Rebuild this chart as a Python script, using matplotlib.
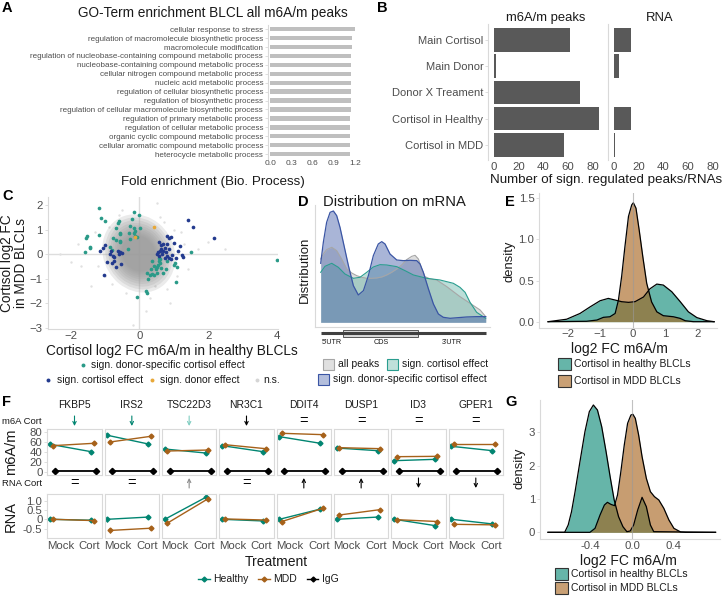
import numpy as np
import matplotlib
matplotlib.use('Agg')
import matplotlib.pyplot as plt
from matplotlib.patches import Ellipse, Rectangle

plt.rcParams['font.family'] = ['Liberation Sans', 'DejaVu Sans']

# ---------------- data ----------------
go_terms = ['cellular response to stress',
            'regulation of macromolecule biosynthetic process',
            'macromolecule modification',
            'regulation of nucleobase-containing compound metabolic process',
            'nucleobase-containing compound metabolic process',
            'cellular nitrogen compound metabolic process',
            'nucleic acid metabolic process',
            'regulation of cellular biosynthetic process',
            'regulation of biosynthetic process',
            'regulation of cellular macromolecule biosynthetic process',
            'regulation of primary metabolic process',
            'regulation of cellular metabolic process',
            'organic cyclic compound metabolic process',
            'cellular aromatic compound metabolic process',
            'heterocycle metabolic process']
go_fold = [1.20, 1.155, 1.155, 1.14, 1.14, 1.14, 1.14, 1.14, 1.14, 1.14,
           1.135, 1.135, 1.135, 1.135, 1.135]

b_cats = ['Main Cortisol', 'Main Donor', 'Donor X Treament',
          'Cortisol in Healthy', 'Cortisol in MDD']
b_m6a = [62, 2, 70, 85, 57]
b_rna = [14, 4, 0, 14, 1.5]

# panel C
teal_x = [-1.17, -1.13, -1.0, -1.56, -1.53, -1.58, -1.43, -1.45, -1.19, -0.59, -0.62, -0.67,
          -0.58, -0.56, -0.77, -0.67, -0.56, -0.58, -0.85, -0.81, -0.34, -0.17, 0.0, -0.22,
          -0.28, -0.15, -0.12, -0.17, -0.31, -0.07, 0.01, -0.12, -0.28, 0.37, 0.42, 0.47,
          0.5, 0.54, 0.57, 0.6, 0.34, 0.22, 0.24, 0.32, 0.37, 0.42, 0.61, 0.63, 0.76, 0.69,
          0.81, 0.99, 1.08, 1.03, 1.49, 1.05, 0.2, 0.21, -0.07, 4.0, 0.57, 0.52]
teal_y = [1.90, 1.47, 1.37, 0.64, 0.73, 0.07, 0.30, 0.26, 0.77, 1.36, 1.25, 1.07,
          0.81, 0.86, 0.64, 0.59, 0.55, 0.48, 0.30, 0.16, 0.21, 1.71, 1.58, 1.44,
          1.15, 1.05, 0.96, 0.85, 0.85, 0.68, 1.07, 0.73, 0.62, -0.27, -0.48, -0.62,
          -0.52, -0.45, -0.27, -0.37, -0.62, -0.75, -1.0, -0.86, -0.82, -0.86, -0.21, -0.55,
          -0.62, -0.75, -0.27, -0.45, -0.51, -0.37, 0.07, -1.14, -1.51, -1.60, -1.74, -0.23, -0.14, -0.75]
blue_x = [1.42, 1.55, 2.18, -1.14, -1.07, -0.99, -1.04, -0.95, -0.82, -0.77, -0.75, -0.80,
          -0.67, -0.60, -0.56, -0.51, -0.63, -0.54, -0.75, -0.85, 0.57, 0.63, 0.69, 0.73,
          0.81, 0.86, 0.93, 0.99, 0.81, 0.86, 0.61, 0.54, 0.52, 0.57, 0.66, 0.76, 0.81,
          0.73, 0.86, 0.91, 0.96, 1.05, 1.12, 1.18, 1.23, 1.28, 0.63, 0.69]
blue_y = [1.40, 1.12, 0.64, 0.11, 0.27, 0.36, -0.84, -0.32, 0.11, -0.07, -0.27, -0.34,
          -0.52, 0.0, 0.10, 0.04, 0.14, -0.41, -0.11, 0.0, 0.51, 0.37, 0.41, 0.27,
          0.75, 0.64, 0.71, 0.45, 0.41, 0.21, 0.14, 0.07, 0.0, -0.07, 0.0, 0.07, -0.07,
          -0.14, -0.14, -0.21, -0.03, -0.14, 0.14, 0.32, -0.04, -0.10, 0.23, 0.11]
orange_x = [0.42, -0.13]
orange_y = [1.12, 0.68]
ns_x = [0.5, -0.5, 0.6, -1.3, -1.7, -2.3, -1.4, -1.2, -0.4, 0.3, 0.8, 1.1, 1.3, 1.0, 2.0,
        -0.2, 0.9, -0.8, 0.7, -0.9, 1.7, -1.8, 0.2, 1.4, -2.0, 2.5, -1.0, 1.2, -0.6, 0.45]
ns_y = [2.1, 1.8, 1.5, 0.9, -0.5, 0.0, -1.3, -0.5, -1.6, -1.8, -1.4, -0.9, 0.4, 1.0, 0.5,
        -2.9, -2.0, -1.2, 1.3, 1.1, 0.2, 0.4, -2.3, -0.6, -0.3, 0.2, -0.9, 0.9, 1.6, -1.3]
ns_center = (-0.02, 0.03)
ns_extent = (2.1, 3.2)
ns_levels = [1.0, 0.92, 0.85, 0.78, 0.72, 0.66, 0.61, 0.56, 0.52, 0.48, 0.45]

# panel D (position along transcript 0..1, density in arbitrary units)
d_all_x = [0, .016, .036, .067, .097, .127, .158, .188, .218, .248, .279, .309, .339, .370, .400,
           .430, .461, .491, .521, .552, .572, .592, .612, .632, .663, .703, .764, .844, .905, .966, 1.0]
d_all_y = [190, 205, 218, 225, 215, 190, 160, 148, 140, 135, 132, 132, 133, 136, 142,
           150, 160, 172, 188, 198, 201, 190, 160, 137, 130, 127, 107, 77, 57, 37, 17]
d_cort_x = [0, .026, .067, .107, .147, .198, .238, .279, .319, .360, .400, .461, .511, .562,
            .602, .642, .723, .804, .844, .875, .905, .945, 1.0]
d_cort_y = [150, 168, 177, 165, 145, 132, 135, 150, 166, 173, 172, 167, 155, 142,
            137, 132, 127, 117, 105, 90, 60, 30, 12]
d_donor_x = [0, .016, .036, .057, .077, .097, .117, .137, .168, .198, .228, .259, .289, .319,
             .349, .370, .390, .420, .461, .501, .541, .582, .602, .622, .653, .683, .713,
             .743, .784, .834, .885, .945, 1.0]
d_donor_y = [177, 240, 300, 330, 334, 320, 285, 240, 170, 110, 82, 95, 140, 200,
             235, 242, 235, 205, 187, 185, 186, 185, 175, 150, 100, 55, 25,
             15, 12, 14, 16, 17, 17]

# panel E
e_h_x = [-2.6, -2.03, -1.62, -1.31, -1.0, -0.75, -0.54, -0.34, -0.13, 0.07, 0.33, 0.53, 0.74,
         0.94, 1.2, 1.46, 1.71, 1.97, 2.28, 2.5]
e_h_y = [0.0, 0.03, 0.10, 0.18, 0.255, 0.283, 0.263, 0.243, 0.235, 0.243, 0.30, 0.40, 0.457,
         0.445, 0.364, 0.243, 0.12, 0.05, 0.012, 0.0]
e_m_x = [-2.6, -1.42, -1.1, -0.9, -0.7, -0.54, -0.44, -0.34, -0.24, -0.13, -0.03, 0.02, 0.1,
         0.2, 0.31, 0.43, 0.58, 0.74, 0.94, 1.25, 1.46, 1.61, 1.87, 2.5]
e_m_y = [0.0, 0.005, 0.02, 0.053, 0.06, 0.10, 0.26, 0.55, 0.91, 1.28, 1.42, 1.445, 1.38,
         1.11, 0.79, 0.466, 0.24, 0.12, 0.073, 0.06, 0.04, 0.012, 0.0, 0.0]

# panel F
f_genes = ['FKBP5', 'IRS2', 'TSC22D3', 'NR3C1', 'DDIT4', 'DUSP1', 'ID3', 'GPER1']
f_treat = ['Mock', 'Cort']
m6a_healthy = [[54.7, 40], [72.7, 55.3], [45.3, 37.3], [52, 40], [70, 56.7], [47.3, 42], [22, 24.7], [50.7, 42]]
m6a_mdd = [[52, 56.7], [59.3, 70.7], [41.3, 43.3], [54, 46], [76.7, 74], [48, 46], [30, 30.7], [55.3, 55.3]]
m6a_igg = [[1, 1], [1, 1], [1, 1], [1, 1], [1, 1], [1, 1], [1, 1], [1, 1]]
m6a_err = [[2.5, 2.5], [3, 3.5], [2.5, 2.5], [2.5, 2.5], [3, 2.5], [2.5, 2.5], [2.5, 2.5], [2.5, 2.5]]
rna_healthy = [[0, -0.05], [0, 0.12], [0, 1.18], [0, -0.09], [0, 0.55], [0, 0.12], [0, -0.34], [0, -0.25]]
rna_mdd = [[0, -0.07], [-0.6, -0.48], [-0.21, 1.11], [0.02, -0.04], [-0.12, 0.59], [0.23, 0.52], [-0.02, -0.12], [-0.27, -0.3]]
rna_err = [[0.05, 0.06], [0.12, 0.12], [0.05, 0.06], [0.05, 0.05], [0.06, 0.06], [0.05, 0.06], [0.05, 0.06], [0.05, 0.05]]
m6a_sig = ['down', 'down', 'down', 'down', '=', '=', '=', '=']
m6a_sig_col = ['#018571', '#018571', '#80cdc1', '#000000', '#000000', '#000000', '#000000', '#000000']
rna_sig = ['=', '=', 'up', '=', 'up', 'up', 'down', 'down']
rna_sig_col = ['#000000', '#000000', '#8c8c8c', '#000000', '#000000', '#000000', '#000000', '#000000']

# panel G
g_h_x = [-0.81, -0.65, -0.616, -0.584, -0.55, -0.503, -0.455, -0.413, -0.374, -0.335, -0.294,
         -0.252, -0.213, -0.174, -0.132, -0.09, -0.052, -0.02, 0.013, 0.052, 0.094, 0.135,
         0.174, 0.206, 0.8]
g_h_y = [0, 0, 0.22, 0.62, 1.22, 2.12, 3.02, 3.62, 3.82, 3.67, 3.17, 2.42, 1.67, 0.97, 0.47,
         0.17, 0.02, 0.04, 0.22, 0.67, 1.05, 0.77, 0.22, 0.02, 0]
g_m_x = [-0.81, -0.407, -0.358, -0.31, -0.268, -0.239, -0.206, -0.171, -0.142, -0.11, -0.077,
         -0.045, -0.013, 0.006, 0.029, 0.061, 0.094, 0.135, 0.174, 0.213, 0.255, 0.303, 0.352,
         0.4, 0.465, 0.513, 0.8]
g_m_y = [0, 0, 0.12, 0.52, 0.82, 0.9, 0.84, 0.8, 1.12, 1.82, 2.62, 3.27, 3.52, 3.54, 3.42,
         2.92, 2.27, 1.62, 1.22, 1.07, 0.97, 0.72, 0.37, 0.12, 0.01, 0, 0]

# ---------------- drawing ----------------
W, H = 724, 597
fig = plt.figure(figsize=(W / 100, H / 100), dpi=100)
TXT = '#4D4D4D'
AXL = '#D9D9D9'
C_H = '#018571'
C_M = '#a6611a'


def add_ax(l, t, r, b):
    return fig.add_axes([l / W, 1 - b / H, (r - l) / W, (b - t) / H])


def style(ax, spines=('left', 'bottom'), size=8):
    for s in ax.spines:
        ax.spines[s].set_visible(s in spines)
        ax.spines[s].set_color(AXL)
        ax.spines[s].set_linewidth(0.8)
    ax.tick_params(colors=AXL, labelcolor=TXT, length=2, width=0.6, labelsize=size, pad=1.5)
    ax.tick_params(axis='x', length=0, pad=1.2)
    ax.set_facecolor('none')


# ---- A ----
axA = add_ax(268, 24.8, 362, 158.5)
axA.barh(range(len(go_terms)), go_fold, height=0.5, color='#BFBFBF')
axA.set_ylim(14.5, -0.5)
axA.set_xlim(-0.03, 1.30)
axA.set_yticks(range(len(go_terms)))
axA.set_yticklabels(go_terms)
axA.set_xticks([0, 0.3, 0.6, 0.9, 1.2])
axA.set_xticklabels(['0.0', '0.3', '0.6', '0.9', '1.2'])
style(axA, spines=('left',), size=6)
axA.tick_params(axis='y', labelsize=5.8)

# ---- B ----
axB1 = add_ax(488.3, 24.3, 603.5, 160.5)
axB2 = add_ax(608.3, 24.3, 723.5, 160.5)
for ax, vals in ((axB1, b_m6a), (axB2, b_rna)):
    ax.barh(range(len(b_cats)), vals, height=0.9, color='#595959')
    ax.set_ylim(4.6, -0.6)
    ax.set_xlim(-4.3, 88.8)
    ax.set_xticks([0, 20, 40, 60, 80])
    ax.set_yticks(range(len(b_cats)))
    style(ax, spines=('left',), size=8.2)
axB1.set_yticklabels(b_cats, fontsize=8)
axB2.set_yticklabels([])
axB2.tick_params(axis='y', length=0)

# ---- C ----
axC = add_ax(47.7, 196.7, 278, 329.3)
axC.set_xlim(-2.67, 4.03)
axC.set_ylim(-3.06, 2.34)
axC.axhline(0, color='#DDDDDD', lw=1, zorder=0)
axC.axvline(0, color='#DDDDDD', lw=1, zorder=0)
axC.scatter(ns_x, ns_y, s=3, color='#E0E0E0', lw=0, zorder=1)
for f_ in ns_levels:
    axC.add_patch(Ellipse(ns_center, ns_extent[0] * f_, ns_extent[1] * f_, angle=8,
                          color='#9C9C9C', alpha=0.2, lw=0, zorder=1))
axC.scatter(teal_x, teal_y, s=7, color='#2A9A88', lw=0, zorder=3)
axC.scatter(blue_x, blue_y, s=7, color='#233A8E', lw=0, zorder=3)
axC.scatter(orange_x, orange_y, s=7, color='#E8A838', lw=0, zorder=3)
axC.set_xticks([-2, 0, 2, 4])
axC.set_yticks([-3, -2, -1, 0, 1, 2])
style(axC, size=8.2)

# ---- D ----
axD = add_ax(315, 205, 490, 326.7)
axD.set_xlim(-0.0345, 1.026)
axD.set_ylim(-13.2, 352)
axD.fill_between(d_all_x, d_all_y, color='#B1B1B1', alpha=0.42, lw=0)
axD.plot(d_all_x, d_all_y, color='#A6A6A6', lw=0.8)
axD.fill_between(d_cort_x, d_cort_y, color='#5FB1A2', alpha=0.42, lw=0)
axD.plot(d_cort_x, d_cort_y, color='#2A9D8F', lw=0.8)
axD.fill_between(d_donor_x, d_donor_y, color='#415CA7', alpha=0.45, lw=0)
axD.plot(d_donor_x, d_donor_y, color='#3A55A4', lw=0.9)
style(axD)
axD.set_xticks([])
axD.set_yticks([])

# ---- E ----
axE = add_ax(539.3, 193, 716.7, 327.7)
axE.set_xlim(-2.87, 2.58)
axE.set_ylim(-0.073, 1.564)
axE.fill_between(e_h_x, e_h_y, color=C_H, alpha=0.6, lw=0)
axE.plot(e_h_x, e_h_y, color='black', lw=0.9)
axE.fill_between(e_m_x, e_m_y, color=C_M, alpha=0.62, lw=0)
axE.plot(e_m_x, e_m_y, color='black', lw=0.9)
axE.axvline(0, color='#999999', lw=0.8, alpha=0.6, zorder=5)
axE.set_xticks([-2, -1, 0, 1, 2])
axE.set_yticks([0, 0.5, 1.0, 1.5])
axE.set_yticklabels(['0.0', '0.5', '1.0', '1.5'])
style(axE, size=8.2)

# ---- G ----
axG = add_ax(540, 400, 720, 539)
axG.set_xlim(-0.887, 0.843)
axG.set_ylim(-0.2, 3.97)
axG.fill_between(g_h_x, g_h_y, color=C_H, alpha=0.6, lw=0)
axG.plot(g_h_x, g_h_y, color='black', lw=0.9)
axG.fill_between(g_m_x, g_m_y, color=C_M, alpha=0.62, lw=0)
axG.plot(g_m_x, g_m_y, color='black', lw=0.9)
axG.axvline(0, color='#999999', lw=0.8, alpha=0.6, zorder=5)
axG.set_xticks([-0.4, 0, 0.4])
axG.set_xticklabels(['-0.4', '0.0', '0.4'])
axG.set_yticks([0, 1, 2, 3])
style(axG, size=8.2)

# ---- F ----
xp = np.array([1.0, 2.0])
for i, g in enumerate(f_genes):
    l = 47.3 + 57.33 * i
    axt = add_ax(l, 429.3, l + 54.4, 475)
    axb = add_ax(l, 494.3, l + 54.4, 537.7)
    axt.errorbar(xp - 0.06, m6a_healthy[i], yerr=m6a_err[i], color=C_H, marker='D', ms=2.5,
                 lw=1, elinewidth=0.8, capsize=0)
    axt.errorbar(xp, m6a_mdd[i], yerr=m6a_err[i], color=C_M, marker='D', ms=2.5,
                 lw=1, elinewidth=0.8, capsize=0)
    axt.errorbar(xp + 0.06, m6a_igg[i], yerr=[1.5, 1.5], color='black', marker='D', ms=3.2,
                 lw=1.3, elinewidth=0.8, capsize=0)
    axb.errorbar(xp - 0.06, rna_healthy[i], yerr=rna_err[i], color=C_H, marker='D', ms=2.5,
                 lw=1, elinewidth=0.8, capsize=0)
    axb.errorbar(xp, rna_mdd[i], yerr=rna_err[i], color=C_M, marker='D', ms=2.5,
                 lw=1, elinewidth=0.8, capsize=0)
    axt.set_xlim(0.87, 2.2)
    axb.set_xlim(0.87, 2.2)
    axt.set_ylim(-6.6, 84.7)
    axb.set_ylim(-0.99, 1.344)
    for ax in (axt, axb):
        style(ax, spines=('left', 'bottom', 'top', 'right'), size=8.2)
        ax.set_xticks([])
    if i == 0:
        axt.set_yticks([0, 20, 40, 60, 80])
        axb.set_yticks([-0.5, 0, 0.5, 1.0])
        axb.set_yticklabels(['-0.5', '0', '0.5', '1.0'])
    else:
        axt.set_yticks([])
        axb.set_yticks([])

# ---------------- overlay (text, legends, annotations) ----------------
ov = fig.add_axes([0, 0, 1, 1], zorder=10)
ov.set_xlim(0, W)
ov.set_ylim(H, 0)
ov.axis('off')
ov.patch.set_alpha(0)


def t(x, y, s, size, **kw):
    kw.setdefault('color', '#1A1A1A')
    ov.text(x, y, s, fontsize=size, **kw)


# panel letters
for x, y, s in ((2, 1.5, 'A'), (376.5, 1.5, 'B'), (2, 189, 'C'), (298, 195.5, 'D'),
                (505, 195, 'E'), (2, 395, 'F'), (505, 395, 'G')):
    t(x, y, s, 10.5, fontweight='bold', va='top', ha='left', color='black')

# A
t(213, 17.3, 'GO-Term enrichment BLCL all m6A/m peaks', 9.8, ha='center', va='baseline')
t(213, 185.5, 'Fold enrichment (Bio. Process)', 9.6, ha='center', va='baseline')
# B
t(546, 20.7, 'm6A/m peaks', 9.4, ha='center', va='baseline')
t(660, 20.7, 'RNA', 9.4, ha='center', va='baseline')
t(606, 183, 'Number of sign. regulated peaks/RNAs', 9.6, ha='center', va='baseline')
# C
t(172, 355, 'Cortisol log2 FC m6A/m in healthy BLCLs', 9.8, ha='center', va='baseline')
t(14, 263, 'Cortisol log2 FC\nin MDD BLCLs', 9.8, ha='center', va='center', rotation=90,
  linespacing=0.95)
ov.scatter([82.7], [364.5], s=8, color='#2A9A88', lw=0)
t(90.7, 364.5, 'sign. donor-specific cortisol effect', 7.5, ha='left', va='center')
ov.scatter([48.3], [380], s=8, color='#233A8E', lw=0)
t(56.7, 380, 'sign. cortisol effect', 7.5, ha='left', va='center')
ov.scatter([151.7], [380], s=8, color='#E8A838', lw=0)
t(160, 380, 'sign. donor effect', 7.5, ha='left', va='center')
ov.scatter([256.7], [380], s=8, color='#D5D5D5', lw=0)
t(263.3, 380, 'n.s.', 7.5, ha='left', va='center')
# D
t(323, 206.5, 'Distribution on mRNA', 10.6, ha='left', va='baseline')
t(305, 270, 'Distribution', 9.5, ha='center', va='center', rotation=90)
ov.plot([320.7, 485.7], [333.3, 333.3], color='#404040', lw=2.2, solid_capstyle='butt')
ov.add_patch(Rectangle((343.3, 330), 75, 6.7, facecolor='#D9D9D9', edgecolor='#404040', lw=0.6))
t(331.7, 342.5, "5'UTR", 5.2, ha='center', va='center')
t(381, 342.5, 'CDS', 5.2, ha='center', va='center')
t(451.7, 342.5, "3'UTR", 5.2, ha='center', va='center')
for (x0, y0, fc, ec, lab) in ((322.7, 364.2, '#E0E0E0', '#A6A6A6', 'all peaks'),
                              (387.3, 364.2, '#BFE0DA', '#2A9D8F', 'sign. cortisol effect'),
                              (318.3, 379.5, '#B3BEDC', '#3A55A4', 'sign. donor-specific cortisol effect')):
    ov.add_patch(Rectangle((x0, y0 - 5.5), 11, 11, facecolor=fc, edgecolor=ec, lw=0.8))
    t(x0 + 15, y0, lab, 7.5, ha='left', va='center')
# E
t(510, 261.7, 'density', 9.4, ha='center', va='center', rotation=90)
t(619, 353, 'log2 FC m6A/m', 10, ha='center', va='baseline')
for (y0, fc, lab) in ((364, C_H, 'Cortisol in healthy BLCLs'), (381, C_M, 'Cortisol in MDD BLCLs')):
    ov.add_patch(Rectangle((558.3, y0 - 6.3), 12.7, 12.6, facecolor=fc, alpha=0.6, lw=0))
    ov.add_patch(Rectangle((558.3, y0 - 6.3), 12.7, 12.6, facecolor='none', edgecolor='#333333', lw=0.8))
    t(574, y0, lab, 7.5, ha='left', va='center')
# G
t(520, 468, 'density', 9.4, ha='center', va='center', rotation=90)
t(628, 565.5, 'log2 FC m6A/m', 10, ha='center', va='baseline')
for (y0, fc, lab) in ((574, C_H, 'Cortisol in healthy BLCLs'), (588.3, C_M, 'Cortisol in MDD BLCLs')):
    ov.add_patch(Rectangle((555, y0 - 6.2), 13.3, 12.4, facecolor=fc, alpha=0.6, lw=0))
    ov.add_patch(Rectangle((555, y0 - 6.2), 13.3, 12.4, facecolor='none', edgecolor='#333333', lw=0.8))
    t(571, y0, lab, 7.5, ha='left', va='center')

# F
for i, g in enumerate(f_genes):
    l = 47.3 + 57.33 * i
    cx = l + 27.2
    t(cx, 405, g, 7.4, ha='center', va='center')
    for (yc, sig, col) in ((421, m6a_sig[i], m6a_sig_col[i]), (483, rna_sig[i], rna_sig_col[i])):
        if sig == '=':
            t(cx, yc, '=', 10.5, ha='center', va='center', color='black')
        else:
            y_a, y_b = (yc - 5, yc + 5) if sig == 'down' else (yc + 5, yc - 5)
            ov.annotate('', xy=(cx, y_b), xytext=(cx, y_a),
                        arrowprops=dict(arrowstyle='->', lw=0.8, color=col,
                                        shrinkA=0, shrinkB=0, mutation_scale=6))
    t(l - 0.5, 546, f_treat[0], 8.2, ha='left', va='center', color=TXT)
    t(l + 54.4 - 1.5, 546, f_treat[1], 8.2, ha='right', va='center', color=TXT)
t(2, 421, 'm6A Cort', 6.8, ha='left', va='center')
t(2, 484, 'RNA Cort', 6.8, ha='left', va='center')
t(10.8, 452, 'm6A/m', 10.5, ha='center', va='center', rotation=90)
t(10.8, 516, 'RNA', 10.5, ha='center', va='center', rotation=90)
t(276, 565.5, 'Treatment', 10, ha='center', va='baseline')
for (x0, col, lab) in ((198.3, C_H, 'Healthy'), (258.3, C_M, 'MDD'), (306.7, 'black', 'IgG')):
    ov.plot([x0, x0 + 11.7], [578.5, 578.5], color=col, lw=1)
    ov.plot([x0 + 5.8], [578.5], marker='D', ms=2.5, color=col)
    t(x0 + 15, 578.5, lab, 7.5, ha='left', va='center')

fig.savefig('out.png', dpi=100)
